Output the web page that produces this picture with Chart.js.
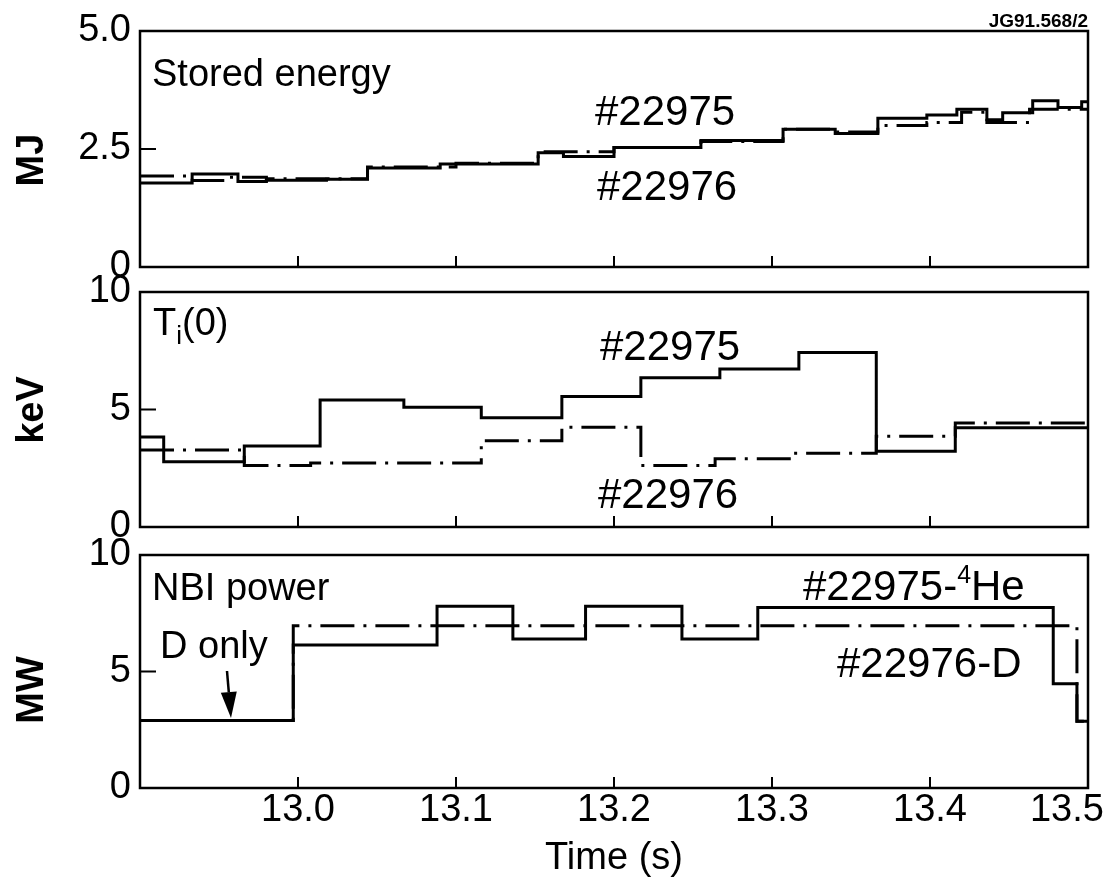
<!DOCTYPE html>
<html><head><meta charset="utf-8">
<script src="https://cdn.jsdelivr.net/npm/chart.js@4.4.1/dist/chart.umd.min.js"></script>
<style>
html,body{margin:0;padding:0;background:#fff;width:1116px;height:892px;overflow:hidden}
canvas{position:absolute;left:0;top:0}
</style></head><body>
<canvas id="c1" width="1116" height="892" style="width:1116px;height:892px"></canvas>
<canvas id="c2" width="1116" height="892" style="width:1116px;height:892px"></canvas>
<canvas id="c3" width="1116" height="892" style="width:1116px;height:892px"></canvas>
<script>
// ---------- data ----------
const X_TICKS = [13.0, 13.1, 13.2, 13.3, 13.4, 13.5];
const X_TICK_LABELS = ['13.0', '13.1', '13.2', '13.3', '13.4', '13.5'];

// Stored energy (MJ)
const energyTime22975 = [12.900, 12.933, 12.962, 12.980, 13.018, 13.044, 13.090, 13.152, 13.168, 13.200, 13.255, 13.307, 13.340, 13.367, 13.398, 13.417, 13.436, 13.446, 13.465, 13.481, 13.496, 13.500];
const energy22975     = [1.78, 1.97, 1.81, 1.84, 1.86, 2.10, 2.18, 2.42, 2.34, 2.53, 2.68, 2.92, 2.83, 3.15, 3.22, 3.34, 3.12, 3.27, 3.52, 3.38, 3.50, 3.50];
const energyTime22976 = [12.900, 12.933, 12.955, 12.980, 13.044, 13.100, 13.152, 13.200, 13.255, 13.307, 13.340, 13.367, 13.398, 13.420, 13.436, 13.463, 13.500];
const energy22976     = [1.93, 1.83, 1.90, 1.87, 2.12, 2.20, 2.44, 2.53, 2.66, 2.92, 2.86, 3.00, 3.06, 3.28, 3.06, 3.34, 3.34];
const energyTicks = [0, 2.5, 5.0];
const energyTickLabels = ['0', '2.5', '5.0'];

// Ti(0) (keV)
const tiTime22975 = [12.900, 12.915, 12.966, 13.014, 13.067, 13.116, 13.167, 13.217, 13.267, 13.317, 13.366, 13.416, 13.500];
const ti22975     = [3.83, 2.78, 3.45, 5.40, 5.10, 4.65, 5.55, 6.35, 6.72, 7.43, 3.22, 4.22, 4.22];
const tiTime22976 = [12.900, 12.966, 13.008, 13.116, 13.167, 13.217, 13.264, 13.314, 13.366, 13.416, 13.500];
const ti22976     = [3.28, 2.62, 2.72, 3.67, 4.24, 2.62, 2.90, 3.14, 3.86, 4.43, 4.43];
const tiTicks = [0, 5, 10];
const tiTickLabels = ['0', '5', '10'];

// NBI power (MW)
const nbiTime22975 = [12.900, 12.997, 13.088, 13.136, 13.182, 13.243, 13.291, 13.478, 13.493, 13.500];
const nbi22975     = [2.9, 6.14, 7.8, 6.4, 7.8, 6.4, 7.75, 4.47, 2.86, 2.86];
const nbiTime22976 = [12.900, 12.997, 13.493, 13.500];
const nbi22976     = [2.9, 6.96, 2.86, 2.86];
const nbiTicks = [0, 5, 10];
const nbiTickLabels = ['0', '5', '10'];

// ---------- styling / layout ----------
const FAMILY = '"Liberation Sans", Arial, Helvetica, sans-serif';
const PLOT_LEFT = 140, PLOT_RIGHT = 1088, W = 1116, H = 892;
const DASHDOT = [34, 9, 3, 9];

function pts(t, v) { return t.map((x, i) => ({x: x, y: v[i]})); }

function drawRich(ctx, x, y, parts) {
  parts.forEach(p => {
    ctx.font = (p.weight || 'normal') + ' ' + p.size + 'px ' + FAMILY;
    ctx.fillText(p.text, x, y + (p.dy || 0));
    x += ctx.measureText(p.text).width;
  });
}

function makePlugin(panel) {
  return {
    id: 'frame' + panel.id,
    afterDatasetsDraw(chart) {
      const {ctx, chartArea: a, scales: {x, y}} = chart;
      ctx.save();
      ctx.strokeStyle = '#000';
      ctx.fillStyle = '#000';
      ctx.lineWidth = 2.5;
      ctx.setLineDash([]);
      ctx.strokeRect(a.left, a.top, a.right - a.left, a.bottom - a.top);
      ctx.lineWidth = 2;
      ctx.beginPath();
      x.ticks.forEach(t => {
        const px = x.getPixelForValue(t.value);
        ctx.moveTo(px, a.bottom); ctx.lineTo(px, a.bottom - 11);
      });
      y.ticks.forEach(t => {
        const py = y.getPixelForValue(t.value);
        ctx.moveTo(a.left, py); ctx.lineTo(a.left + 16, py);
      });
      ctx.stroke();
      // annotations
      ctx.textAlign = 'left';
      ctx.textBaseline = 'alphabetic';
      panel.notes.forEach(n => drawRich(ctx, a.left + n.dx, a.top + n.dy, n.parts));
      // y title
      ctx.save();
      ctx.translate(33, panel.titleY);
      ctx.rotate(-Math.PI / 2);
      ctx.textAlign = 'center';
      ctx.textBaseline = 'middle';
      ctx.font = 'bold 38px ' + FAMILY;
      ctx.fillText(panel.yTitle, 0, 0);
      ctx.restore();
      // arrow
      if (panel.arrow) {
        const [x0, y0, x1, y1] = [a.left + panel.arrow[0], a.top + panel.arrow[1], a.left + panel.arrow[2], a.top + panel.arrow[3]];
        const ang = Math.atan2(y1 - y0, x1 - x0);
        const L = 26, Wd = 8;
        const bx = x1 - L * Math.cos(ang), by = y1 - L * Math.sin(ang);
        ctx.lineWidth = 2.5;
        ctx.beginPath(); ctx.moveTo(x0, y0); ctx.lineTo(bx, by); ctx.stroke();
        ctx.beginPath();
        ctx.moveTo(x1, y1);
        ctx.lineTo(bx + Wd * Math.sin(ang), by - Wd * Math.cos(ang));
        ctx.lineTo(bx - Wd * Math.sin(ang), by + Wd * Math.cos(ang));
        ctx.closePath(); ctx.fill();
      }
      if (panel.corner) {
        ctx.font = 'bold 19px ' + FAMILY;
        ctx.textAlign = 'right';
        ctx.textBaseline = 'alphabetic';
        ctx.fillText(panel.corner, PLOT_RIGHT, 27);
      }
      ctx.restore();
    }
  };
}

function makeChart(panel) {
  const isBottom = panel.bottom;
  const yTicks = panel.yTicks, yLabels = panel.yTickLabels;
  return new Chart(document.getElementById(panel.canvas), {
    type: 'line',
    data: {
      datasets: [
        {data: pts(panel.t1, panel.v1), stepped: true, borderColor: '#000', borderWidth: 3, pointRadius: 0, fill: false, clip: 3},
        {data: pts(panel.t2, panel.v2), stepped: true, borderColor: '#000', borderWidth: 3, borderDash: DASHDOT, pointRadius: 0, fill: false, clip: 3}
      ]
    },
    options: {
      responsive: false,
      animation: false,
      devicePixelRatio: 1,
      events: [],
      layout: {padding: {top: panel.top, bottom: isBottom ? 0 : H - panel.bottomPx, left: 0, right: W - PLOT_RIGHT}},
      plugins: {legend: {display: false}, tooltip: {enabled: false}, title: {display: false}},
      scales: {
        x: {
          type: 'linear', min: 12.9, max: 13.5,
          afterBuildTicks: s => { s.ticks = X_TICKS.map(v => ({value: v})); },
          grid: {display: false, drawTicks: false},
          border: {display: false},
          ticks: {
            display: isBottom, autoSkip: false, maxRotation: 0, minRotation: 0,
            color: '#000', padding: 4,
            font: {family: FAMILY, size: 38, lineHeight: 1.0},
            callback: (v, i) => X_TICK_LABELS[i] + (i === X_TICK_LABELS.length - 1 ? '\u2007\u2007' : '')
          },
          title: {
            display: isBottom, text: 'Time (s)', color: '#000',
            font: {family: FAMILY, size: 38, lineHeight: 1.2},
            padding: {top: 0, bottom: 11}
          },
          afterFit: s => { s.height = isBottom ? H - panel.bottomPx : 0; s.paddingLeft = 0; s.paddingRight = 0; }
        },
        y: {
          min: 0, max: yTicks[yTicks.length - 1],
          afterBuildTicks: s => { s.ticks = yTicks.map(v => ({value: v})); },
          grid: {display: false, drawTicks: false},
          border: {display: false},
          ticks: {
            color: '#000', padding: 9,
            font: {family: FAMILY, size: 38, lineHeight: 1.0},
            callback: (v, i) => yLabels[i]
          },
          afterFit: s => { s.width = PLOT_LEFT; s.paddingTop = 0; s.paddingBottom = 0; }
        }
      }
    },
    plugins: [makePlugin(panel)]
  });
}

const panels = [
  {
    id: 1, canvas: 'c1', top: 31, bottomPx: 267, bottom: false,
    t1: energyTime22975, v1: energy22975, t2: energyTime22976, v2: energy22976,
    yTicks: energyTicks, yTickLabels: energyTickLabels, yTitle: 'MJ', titleY: 160,
    corner: 'JG91.568/2',
    notes: [
      {dx: 12, dy: 55, parts: [{text: 'Stored energy', size: 38}]},
      {dx: 455, dy: 94, parts: [{text: '#22975', size: 42}]},
      {dx: 457, dy: 169, parts: [{text: '#22976', size: 42}]}
    ]
  },
  {
    id: 2, canvas: 'c2', top: 292, bottomPx: 527, bottom: false,
    t1: tiTime22975, v1: ti22975, t2: tiTime22976, v2: ti22976,
    yTicks: tiTicks, yTickLabels: tiTickLabels, yTitle: 'keV', titleY: 410,
    notes: [
      {dx: 13, dy: 43, parts: [{text: 'T', size: 38}, {text: 'i', size: 26, dy: 9}, {text: '(0)', size: 38}]},
      {dx: 460, dy: 68, parts: [{text: '#22975', size: 42}]},
      {dx: 458, dy: 216, parts: [{text: '#22976', size: 42}]}
    ]
  },
  {
    id: 3, canvas: 'c3', top: 555, bottomPx: 788, bottom: true,
    t1: nbiTime22975, v1: nbi22975, t2: nbiTime22976, v2: nbi22976,
    yTicks: nbiTicks, yTickLabels: nbiTickLabels, yTitle: 'MW', titleY: 690,
    arrow: [87, 116, 91, 163],
    notes: [
      {dx: 12, dy: 45, parts: [{text: 'NBI power', size: 38}]},
      {dx: 20, dy: 103, parts: [{text: 'D only', size: 38}]},
      {dx: 663, dy: 45, parts: [{text: '#22975-', size: 42}, {text: '4', size: 25, dy: -17}, {text: 'He', size: 42}]},
      {dx: 697, dy: 122, parts: [{text: '#22976-D', size: 42}]}
    ]
  }
];

panels.forEach(makeChart);
</script>
</body></html>
